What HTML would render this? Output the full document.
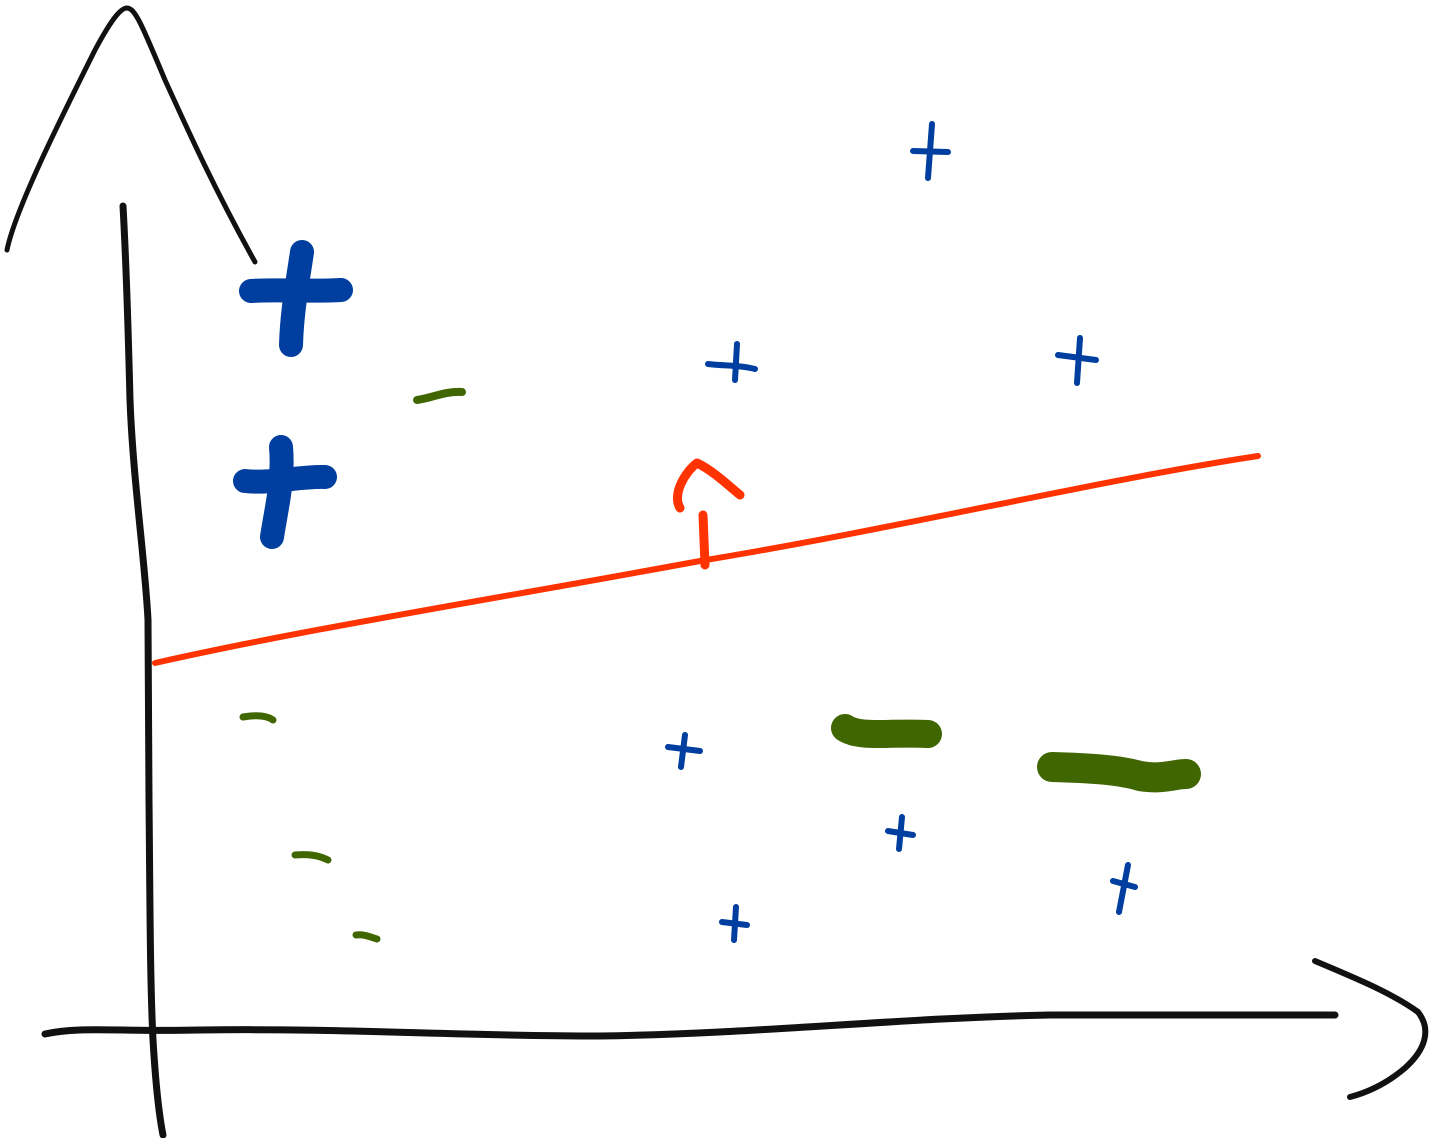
<!DOCTYPE html>
<html><head><meta charset="utf-8"><style>html,body{margin:0;padding:0;background:#fff}svg{display:block}</style></head>
<body>
<svg width="1435" height="1138" viewBox="0 0 1435 1138" xmlns="http://www.w3.org/2000/svg" fill="none" stroke-linecap="round" stroke-linejoin="round">
<path d="M123,206 C126,260 128,320 130,400 C133,480 145,560 148,620 L149,800 C150,900 150,980 153,1040 C156,1090 160,1120 163,1135" stroke="#111" stroke-width="7"/>
<path d="M7,250 C15,210 60,120 95,50 C110,22 120,8 127,8 C135,8 142,25 165,80 C190,135 215,190 255,262" stroke="#111" stroke-width="5"/>
<path d="M45,1034 C80,1026 120,1032 200,1030 C350,1028 450,1036 600,1036 C750,1034 900,1018 1050,1015 L1335,1015" stroke="#111" stroke-width="7"/>
<path d="M1315,961 C1355,978 1390,992 1418,1012 C1432,1030 1425,1050 1405,1068 C1385,1085 1365,1093 1350,1097" stroke="#111" stroke-width="6"/>
<path d="M155,663 C300,630 500,598 700,561 C900,528 1100,480 1258,456" stroke="#ff3300" stroke-width="6"/>
<path d="M703,515 L705,565" stroke="#ff3300" stroke-width="9"/>
<path d="M680,508 C672,494 685,472 697,463 C712,470 728,485 740,495" stroke="#ff3300" stroke-width="9"/>
<g stroke="#003ea0" stroke-width="24">
<path d="M302,252 C298,280 292,310 291,345"/><path d="M251,291 C280,289 310,292 341,290"/>
<path d="M281,447 C284,480 276,510 272,537"/><path d="M245,481 C270,484 300,476 325,477"/>
</g>
<g stroke="#003ea0" stroke-width="6">
<path d="M932,124 L928,178"/><path d="M913,151 L948,152"/>
<path d="M737,344 L735,380"/><path d="M708,364 C725,366 740,365 755,369"/>
<path d="M1080,338 L1077,383"/><path d="M1058,355 L1096,360"/>
<path d="M685,735 L681,767"/><path d="M668,747 L700,751"/>
<path d="M902,817 L899,849"/><path d="M888,831 L913,835"/>
<path d="M1128,865 L1119,912"/><path d="M1113,881 L1135,887"/>
<path d="M736,907 L734,940"/><path d="M722,922 L747,925"/>
</g>
<g stroke="#3f6600">
<path d="M417,400 C432,398 445,391 462,392" stroke-width="8"/>
<path d="M243,717 C255,715 266,715 273,720" stroke-width="7"/>
<path d="M295,855 C308,854 318,855 328,860" stroke-width="7"/>
<path d="M356,935 C364,934 370,937 377,939" stroke-width="7"/>
<path d="M845,728 C860,738 890,732 928,734" stroke-width="28"/>
<path d="M1052,767 C1090,768 1120,770 1140,776 C1160,780 1175,774 1186,774" stroke-width="30"/>
</g>
</svg>
</body></html>
